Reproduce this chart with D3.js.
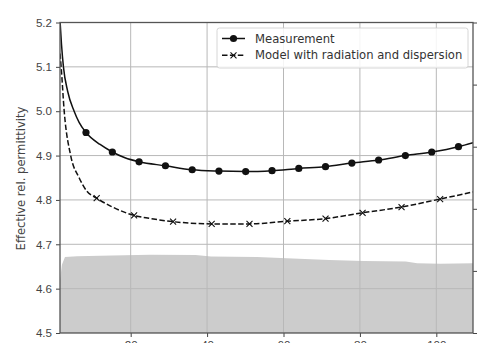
<!DOCTYPE html>
<html>
<head>
<meta charset="utf-8">
<script src="https://cdn.jsdelivr.net/npm/d3@7"></script>
<style>
  body { margin: 0; background: #fff; }
  svg { display: block; font-family: "DejaVu Sans", sans-serif; }
  .axis text { font-size: 11.6px; fill: #444; }
  .axis path, .axis line { stroke: #444; }
</style>
</head>
<body>
<svg id="chart"></svg>
<script>
// Measurement curve (frequency, permittivity)
const measX = [1.5, 1.9, 2.4, 3.5, 5.2, 6.5, 8.3, 12, 15.2, 18.5, 22.2, 29.1, 36.1, 43.1, 50.1, 57.0, 64.0, 71.0, 77.9, 84.9, 91.9, 98.8, 105.8, 109.6];
const measY = [5.205, 5.15, 5.10, 5.045, 5.00, 4.975, 4.952, 4.925, 4.908, 4.895, 4.886, 4.877, 4.868, 4.865, 4.864, 4.866, 4.871, 4.875, 4.883, 4.890, 4.900, 4.908, 4.920, 4.929];
const measMarkX = [8.3, 15.2, 22.2, 29.1, 36.1, 43.1, 50.1, 57.0, 64.0, 71.0, 77.9, 84.9, 91.9, 98.8, 105.8];
const measMarkY = [4.952, 4.908, 4.886, 4.877, 4.868, 4.865, 4.864, 4.866, 4.871, 4.875, 4.883, 4.890, 4.900, 4.908, 4.920];

// Model with radiation and dispersion
const modelX = [1.5, 1.8, 2.6, 4.3, 6.5, 8.5, 11.1, 15, 20.9, 26, 31.1, 41.2, 51.1, 61, 71, 80.7, 90.9, 101, 109.6];
const modelY = [5.13, 5.10, 5.00, 4.90, 4.85, 4.82, 4.804, 4.785, 4.765, 4.757, 4.751, 4.746, 4.746, 4.752, 4.758, 4.771, 4.784, 4.802, 4.818];
const modelMarkX = [11.1, 20.9, 31.1, 41.2, 51.1, 61, 71, 80.7, 90.9, 101];
const modelMarkY = [4.804, 4.765, 4.751, 4.746, 4.746, 4.752, 4.758, 4.771, 4.784, 4.802];

// grey background quantity (secondary axis, 0..1)
const areaX = [1.5, 2.0, 2.8, 6, 12, 25, 37, 41, 53, 64, 72, 81, 92, 95, 101, 109.6];
const areaY = [0.17, 0.22, 0.245, 0.247, 0.249, 0.252, 0.251, 0.246, 0.245, 0.239, 0.235, 0.232, 0.230, 0.225, 0.223, 0.225];

const xTicks = [20, 40, 60, 80, 100];
const yTicks = [4.5, 4.6, 4.7, 4.8, 4.9, 5.0, 5.1, 5.2];
const y2Ticks = [0, 0.2, 0.4, 0.6, 0.8, 1.0];
const legendLabels = ['Measurement', 'Model with radiation and dispersion'];

const containerWidth = 483, containerHeight = 343;
const margin = {top: 22.5, right: 10, bottom: 10, left: 60};
const width = containerWidth - margin.left - margin.right;
const height = containerHeight - margin.top - margin.bottom;
const fontSize = 11.6;

const svg = d3.select('#chart')
    .attr('width', containerWidth)
    .attr('height', containerHeight);

const chart = svg.append('g')
    .attr('transform', `translate(${margin.left},${margin.top})`);

// Scales
const xScale = d3.scaleLinear().domain([1.5, 109.6]).range([0, width]);
const yScale = d3.scaleLinear().domain([4.5, 5.2]).range([height, 0]);
const y2Scale = d3.scaleLinear().domain([0, 1]).range([height, 0]);

chart.append('clipPath').attr('id', 'clip')
  .append('rect').attr('width', width).attr('height', height);

const plot = chart.append('g').attr('clip-path', 'url(#clip)');

// Grey area
const areaData = areaX.map((x, i) => ({x, y: areaY[i]}));
plot.append('path')
    .datum(areaData)
    .attr('fill', '#cccccc')
    .attr('d', d3.area().x(d => xScale(d.x)).y0(height).y1(d => y2Scale(d.y)));

// Grid
plot.append('g').selectAll('line.gx')
  .data(xTicks).join('line')
    .attr('x1', d => xScale(d)).attr('x2', d => xScale(d))
    .attr('y1', 0).attr('y2', height)
    .attr('stroke', '#b8b8b8').attr('stroke-width', 1);
plot.append('g').selectAll('line.gy')
  .data(yTicks).join('line')
    .attr('y1', d => yScale(d)).attr('y2', d => yScale(d))
    .attr('x1', 0).attr('x2', width)
    .attr('stroke', '#b8b8b8').attr('stroke-width', 1);

// Lines
const line = d3.line().x(d => xScale(d.x)).y(d => yScale(d.y)).curve(d3.curveMonotoneX);
const measData = measX.map((x, i) => ({x, y: measY[i]}));
const modelData = modelX.map((x, i) => ({x, y: modelY[i]}));

plot.append('path')
    .datum(modelData)
    .attr('fill', 'none')
    .attr('stroke', '#111')
    .attr('stroke-width', 1.5)
    .attr('stroke-dasharray', '5.5,2.4')
    .attr('d', line);

plot.append('path')
    .datum(measData)
    .attr('fill', 'none')
    .attr('stroke', '#111')
    .attr('stroke-width', 1.5)
    .attr('d', line);

plot.selectAll('circle.mark')
  .data(measMarkX.map((x, i) => ({x, y: measMarkY[i]})))
  .join('circle')
    .attr('class', 'mark')
    .attr('cx', d => xScale(d.x))
    .attr('cy', d => yScale(d.y))
    .attr('r', 3.6)
    .attr('fill', '#111');

const xMark = s => `M${-s},${-s}L${s},${s}M${-s},${s}L${s},${-s}`;
plot.selectAll('path.xmark')
  .data(modelMarkX.map((x, i) => ({x, y: modelMarkY[i]})))
  .join('path')
    .attr('class', 'xmark')
    .attr('transform', d => `translate(${xScale(d.x)},${yScale(d.y)})`)
    .attr('d', xMark(3))
    .attr('stroke', '#111')
    .attr('stroke-width', 1.1);

// Axes
const xAxis = d3.axisBottom(xScale).tickValues(xTicks).tickSize(4).tickPadding(3.5).tickSizeOuter(0);
const yAxis = d3.axisLeft(yScale).tickValues(yTicks).tickFormat(d3.format('.1f')).tickSize(4).tickPadding(4).tickSizeOuter(0);
const y2Axis = d3.axisRight(y2Scale).tickValues(y2Ticks).tickFormat('').tickSize(4).tickSizeOuter(0);

chart.append('g').attr('class', 'axis x-axis')
    .attr('transform', `translate(0,${height})`).call(xAxis);
chart.append('g').attr('class', 'axis y-axis').call(yAxis);
chart.append('g').attr('class', 'axis y2-axis')
    .attr('transform', `translate(${width},0)`).call(y2Axis);

chart.selectAll('.axis .domain').remove();
chart.selectAll('.axis line').attr('stroke-width', 1);

// Frame
chart.append('rect')
    .attr('width', width).attr('height', height)
    .attr('fill', 'none').attr('stroke', '#555').attr('stroke-width', 1.3);

// Y title
chart.append('text')
    .attr('transform', 'rotate(-90)')
    .attr('x', -156)
    .attr('y', -35)
    .attr('text-anchor', 'middle')
    .attr('font-size', fontSize)
    .attr('fill', '#444')
    .text('Effective rel. permittivity');

// Legend
const legend = chart.append('g').attr('transform', `translate(${217 - margin.left},${28 - margin.top})`);
legend.append('rect')
    .attr('width', 251).attr('height', 40).attr('rx', 2.5)
    .attr('fill', '#fff').attr('fill-opacity', 0.85)
    .attr('stroke', '#ccc').attr('stroke-width', 0.8);

legendLabels.forEach((label, i) => {
  const g = legend.append('g').attr('transform', `translate(0,${10.5 + i * 16.8})`);
  g.append('line')
      .attr('x1', 5).attr('x2', 28)
      .attr('stroke', '#111').attr('stroke-width', 1.5)
      .attr('stroke-dasharray', i === 1 ? '5.5,2.4' : null);
  if (i === 0) {
    g.append('circle').attr('cx', 16.5).attr('r', 3.6).attr('fill', '#111');
  } else {
    g.append('path').attr('transform', 'translate(16.5,0)').attr('d', xMark(3))
        .attr('stroke', '#111').attr('stroke-width', 1.1);
  }
  g.append('text')
      .attr('x', 38).attr('dy', '0.35em')
      .attr('font-size', fontSize).attr('fill', '#333')
      .text(label);
});
</script>
</body>
</html>
